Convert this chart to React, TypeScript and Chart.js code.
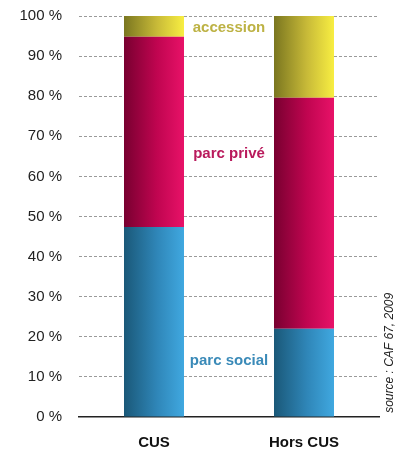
import React, { useEffect, useRef } from "react";
import { Chart, registerables } from "chart.js";

Chart.register(...registerables);

const categories = ["CUS", "Hors CUS"];
const parcSocial = [47.4, 22.0];
const parcPrive = [47.4, 57.6];
const accession = [5.2, 20.4];
const seriesNames = ["parc social", "parc privé", "accession"];
const sourceText = "source : CAF 67, 2009";

const FONT = "'Liberation Sans', Arial, Helvetica, sans-serif";
const BAR_FRACTION = 0.4;

function gradientFor(stops: [string, string, string]) {
  return (c: any) => {
    const chart = c.chart;
    const area = chart.chartArea;
    const xs = chart.scales && chart.scales.x;
    if (!area || !xs || c.dataIndex === undefined) return stops[2];
    const center = xs.getPixelForValue(c.dataIndex);
    const w = (area.width / categories.length) * BAR_FRACTION;
    const g = chart.ctx.createLinearGradient(center - w / 2, 0, center + w / 2, 0);
    g.addColorStop(0, stops[0]);
    g.addColorStop(0.55, stops[1]);
    g.addColorStop(1, stops[2]);
    return g;
  };
}

const labelsPlugin = {
  id: "insideLabels",
  afterDraw(chart: any) {
    const { ctx, chartArea, scales } = chart;
    const ys = scales.y;
    const cx = (chartArea.left + chartArea.right) / 2;
    ctx.save();
    ctx.textAlign = "center";
    ctx.textBaseline = "middle";
    ctx.font = `bold 15px ${FONT}`;
    ctx.fillStyle = "#bdb244";
    ctx.fillText(seriesNames[2], cx, ys.getPixelForValue(97));
    ctx.fillStyle = "#b91a5c";
    ctx.fillText(seriesNames[1], cx, ys.getPixelForValue(65.5));
    ctx.fillStyle = "#3a8ab8";
    ctx.fillText(seriesNames[0], cx, ys.getPixelForValue(14));
    // source, rotated
    ctx.translate(chartArea.right + 11, ys.getPixelForValue(16));
    ctx.rotate(-Math.PI / 2);
    ctx.font = `italic 12px ${FONT}`;
    ctx.fillStyle = "#222";
    ctx.fillText(sourceText, 0, 0);
    ctx.restore();
  },
};

export default function App() {
  const ref = useRef<HTMLCanvasElement | null>(null);
  useEffect(() => {
    if (!ref.current) return;
    const chart = new Chart(ref.current, {
      type: "bar",
      data: {
        labels: categories,
        datasets: [
          {
            label: seriesNames[0],
            data: parcSocial,
            backgroundColor: gradientFor(["#1a5878", "#2f86b8", "#40a8e0"]),
          },
          {
            label: seriesNames[1],
            data: parcPrive,
            backgroundColor: gradientFor(["#780030", "#c00550", "#e81268"]),
          },
          {
            label: seriesNames[2],
            data: accession,
            backgroundColor: gradientFor(["#7a7620", "#c8ba38", "#f8ee42"]),
          },
        ],
      },
      options: {
        animation: false,
        responsive: false,
        devicePixelRatio: 1,
        barPercentage: BAR_FRACTION,
        categoryPercentage: 1,
        layout: { padding: { top: 16, right: 29, left: 0, bottom: 0 } },
        plugins: {
          legend: { display: false },
          tooltip: { enabled: false },
          title: { display: false },
        },
        scales: {
          x: {
            stacked: true,
            grid: { display: false, drawTicks: false },
            border: { display: true, color: "#222", width: 1.5 },
            ticks: {
              padding: 17,
              color: "#111",
              font: { family: FONT, size: 15, weight: "bold" },
            },
            afterFit: (s: any) => {
              s.height = 33;
              s.paddingLeft = 0;
              s.paddingRight = 0;
            },
          },
          y: {
            stacked: true,
            min: 0,
            max: 100,
            border: { display: false, dash: [3, 2] },
            grid: {
              drawTicks: false,
              color: (c: any) => (c.tick && c.tick.value === 0 ? "rgba(0,0,0,0)" : "#9a9a9a"),
              lineWidth: 1,
            },
            ticks: {
              stepSize: 10,
              padding: 17,
              color: "#222",
              font: { family: FONT, size: 15 },
              callback: (v: any) => `${v} %`,
            },
            afterFit: (s: any) => {
              s.width = 79;
              s.paddingTop = 0;
              s.paddingBottom = 0;
            },
          },
        },
      } as any,
      plugins: [labelsPlugin],
    });
    return () => chart.destroy();
  }, []);
  return (
    <div style={{ position: "absolute", left: 0, top: 0, width: 408, height: 450, background: "#fff" }}>
      <canvas ref={ref} width={408} height={450} style={{ display: "block" }} />
    </div>
  );
}
